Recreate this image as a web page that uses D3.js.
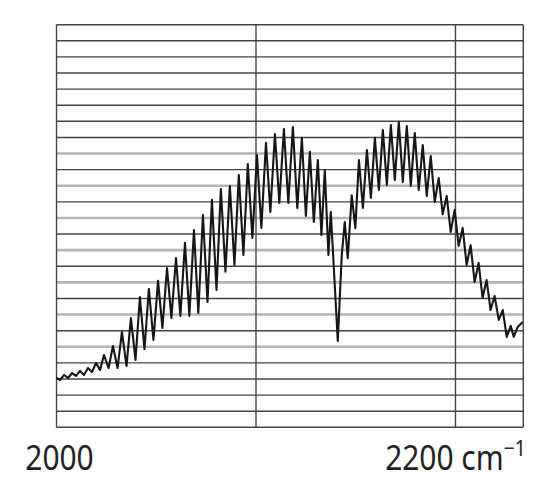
<!DOCTYPE html>
<html>
<head>
<meta charset="utf-8">
<script src="https://cdn.jsdelivr.net/npm/d3@7"></script>
<style>
  html, body { margin: 0; padding: 0; background: #fff; }
  svg { display: block; }
</style>
</head>
<body>
<script>
// ---- data ----
const xDomain = [2000, 2234];
const xTicks = [2000, 2100, 2200];
const gridLevels = d3.range(0, 26);           // horizontal rules, one per unit
const grayLevels = [5, 7, 9, 11, 13, 15, 17];  // rules drawn in light grey
const wavenumber = [
  2000.0, 2001.8, 2003.8, 2005.8, 2007.8, 2009.8, 2011.8, 2013.8, 2015.8, 2017.8, 2019.8, 2021.8,
  2023.8, 2026.1, 2028.3, 2030.6, 2032.8, 2035.1, 2037.3, 2039.6, 2041.8, 2044.1, 2046.3, 2048.6,
  2050.9, 2053.1, 2055.4, 2057.6, 2059.9, 2062.1, 2064.4, 2066.6, 2068.9, 2071.1, 2073.4, 2075.7,
  2077.9, 2080.2, 2082.4, 2084.7, 2086.9, 2089.2, 2091.4, 2093.7, 2095.9, 2098.2, 2100.5, 2102.7,
  2105.0, 2107.2, 2109.5, 2111.7, 2114.0, 2116.2, 2118.5, 2120.7, 2123.0, 2125.0, 2127.0, 2129.0,
  2131.0, 2132.8, 2134.5, 2136.3, 2137.5, 2141.0, 2143.0, 2144.5, 2146.0, 2148.0, 2149.8, 2151.6,
  2153.6, 2155.6, 2157.6, 2159.6, 2161.6, 2163.6, 2165.6, 2167.6, 2169.6, 2171.6, 2173.6, 2175.6,
  2177.6, 2179.6, 2181.6, 2183.6, 2185.6, 2187.6, 2189.6, 2191.6, 2193.6, 2195.6, 2197.6, 2199.6,
  2201.6, 2203.6, 2205.6, 2207.6, 2209.6, 2211.6, 2213.6, 2215.6, 2217.6, 2219.6, 2221.7, 2223.7,
  2225.7, 2227.7, 2229.2, 2231.2, 2233.7
];
const absorbance = [
  3.06, 2.94, 3.25, 3.06, 3.37, 3.19, 3.50, 3.25, 3.68, 3.43, 4.00, 3.56,
  4.49, 3.68, 5.05, 3.68, 5.92, 3.81, 6.79, 4.18, 8.09, 4.86, 8.59, 5.43,
  9.09, 6.17, 9.89, 6.79, 10.51, 6.91, 11.45, 6.91, 12.25, 7.10, 13.18, 7.78,
  14.12, 8.53, 14.80, 9.66, 14.98, 10.08, 15.67, 10.70, 16.35, 11.76, 16.91, 12.38,
  17.66, 13.37, 18.21, 13.93, 18.52, 13.93, 18.65, 13.62, 17.97, 13.12, 17.10, 12.75,
  16.60, 11.94, 15.98, 10.70, 13.37, 5.36, 10.70, 12.75, 10.50, 14.41, 12.37, 16.60,
  13.62, 17.22, 14.25, 17.97, 14.74, 18.46, 15.05, 18.77, 15.36, 18.96, 15.23, 18.71,
  14.99, 18.27, 14.74, 17.53, 14.37, 16.85, 14.00, 15.48, 13.23, 14.36, 12.13, 13.49,
  11.26, 12.38, 10.08, 11.31, 9.02, 10.20, 8.03, 9.15, 7.28, 8.15, 6.67, 7.28,
  5.61, 6.30, 5.61, 6.23, 6.54
];

// ---- layout ----
const W = 560, H = 504;
const plot = { left: 56.5, right: 523.3, top: 24.7, bottom: 427.3 };

const svg = d3.select("body").append("svg").attr("width", W).attr("height", H);

const x = d3.scaleLinear().domain(xDomain).range([plot.left, plot.right]);
const y = d3.scaleLinear().domain([0, 25]).range([plot.bottom, plot.top]);

// grey rules first
svg.append("g").selectAll("line")
  .data(gridLevels.filter(v => grayLevels.includes(v)))
  .join("line")
  .attr("x1", plot.left).attr("x2", plot.right)
  .attr("y1", d => y(d)).attr("y2", d => y(d))
  .attr("stroke", "#b4b4b4").attr("stroke-width", 2.6);

// dark rules
svg.append("g").selectAll("line")
  .data(gridLevels.filter(v => !grayLevels.includes(v)))
  .join("line")
  .attr("x1", plot.left).attr("x2", plot.right)
  .attr("y1", d => y(d)).attr("y2", d => y(d))
  .attr("stroke", "#444").attr("stroke-width", 1.4);

// vertical rules (ticks + right border)
svg.append("g").selectAll("line")
  .data(xTicks.concat([xDomain[1]]))
  .join("line")
  .attr("x1", d => x(d)).attr("x2", d => x(d))
  .attr("y1", plot.top).attr("y2", plot.bottom)
  .attr("stroke", "#444").attr("stroke-width", 1.4);

// spectrum
const pts = wavenumber.map((w, i) => [w, absorbance[i]]);
svg.append("path")
  .datum(pts)
  .attr("fill", "none")
  .attr("stroke", "#161616")
  .attr("stroke-width", 2.1)
  .attr("stroke-linejoin", "round")
  .attr("d", d3.line().x(d => x(d[0])).y(d => y(d[1])));

// labels
const font = "'Noto Sans', 'Open Sans', sans-serif";
const lab1 = svg.append("g").attr("transform", `translate(${x(2000) + 3},470) scale(0.88,1)`);
lab1.append("text")
  .attr("text-anchor", "middle")
  .attr("font-family", font).attr("font-size", 34).attr("fill", "#222")
  .text("2000");

const lab2 = svg.append("g").attr("transform", `translate(${x(2200)},470) scale(0.88,1)`);
const t2 = lab2.append("text")
  .attr("text-anchor", "middle")
  .attr("font-family", font).attr("font-size", 34).attr("fill", "#222");
t2.append("tspan").text("2200 cm");
t2.append("tspan").attr("dy", -14).attr("font-size", 22).text("−1");
</script>
</body>
</html>
